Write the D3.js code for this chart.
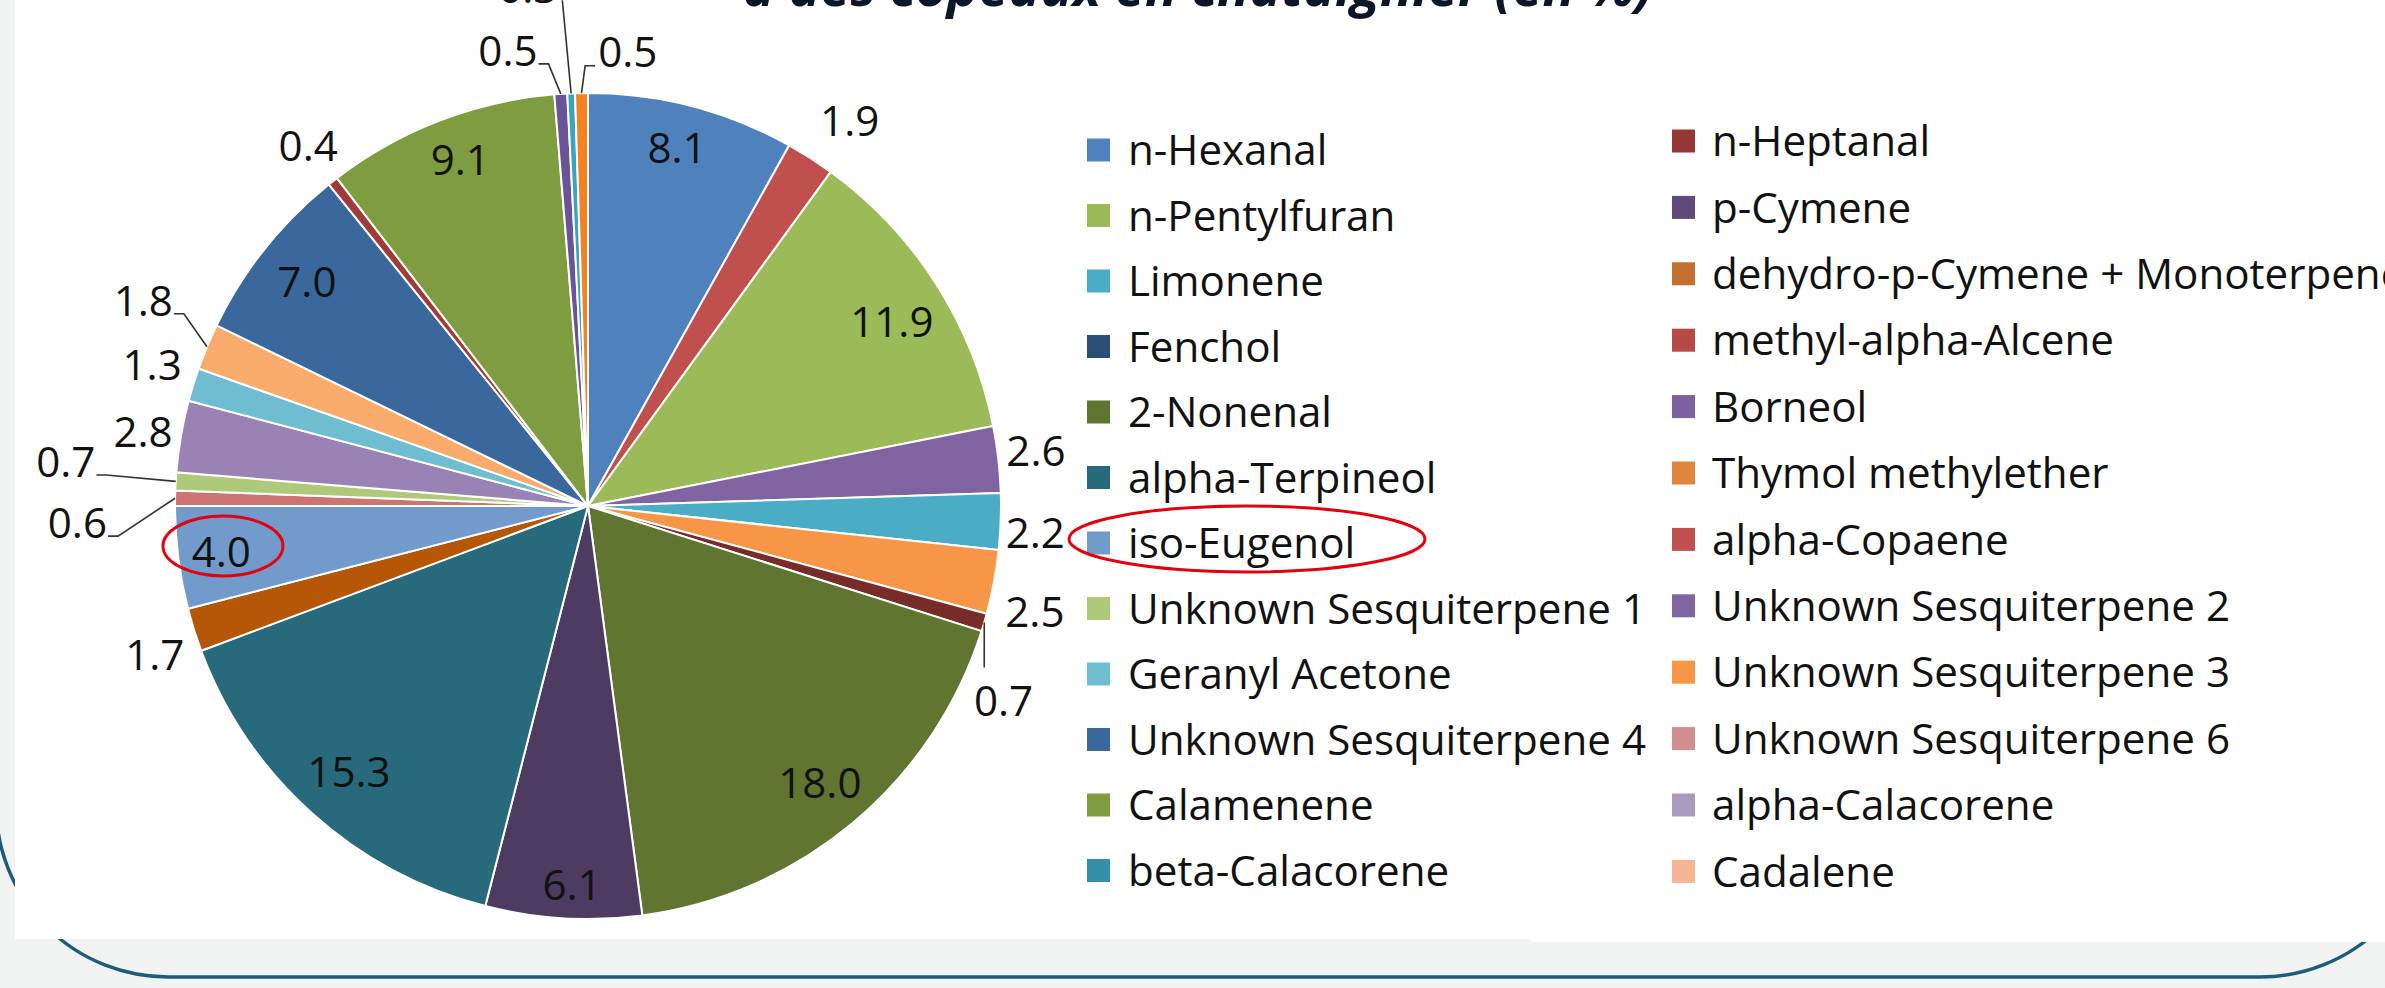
<!DOCTYPE html>
<html><head><meta charset="utf-8">
<script src="https://cdn.jsdelivr.net/npm/d3@7"></script>
<style>html,body{margin:0;padding:0;background:#f1f3f2;overflow:hidden}</style>
</head><body><svg id="c" width="2385" height="988"></svg>
<script>
// ---------- data ----------
const categories = ["n-Hexanal","n-Heptanal","n-Pentylfuran","p-Cymene","Limonene",
  "dehydro-p-Cymene + Monoterpene","Fenchol","methyl-alpha-Alcene","2-Nonenal","Borneol",
  "alpha-Terpineol","Thymol methylether","iso-Eugenol","alpha-Copaene","Unknown Sesquiterpene 1",
  "Unknown Sesquiterpene 2","Geranyl Acetone","Unknown Sesquiterpene 3","Unknown Sesquiterpene 4",
  "Unknown Sesquiterpene 6","Calamenene","alpha-Calacorene","beta-Calacorene","Cadalene"];
const values = [8.1,1.9,11.9,2.6,2.2,2.5,0,0.7,18.0,6.1,15.3,1.7,4.0,0.6,0.7,2.8,1.3,1.8,7.0,0.4,9.1,0.5,0.3,0.5];
const sliceColors = ["#4f81bd","#c0504d","#9bbb59","#8064a2","#4bacc6","#f79646","#2c4d75","#772c2a",
  "#5f7530","#4d3b62","#276a7c","#b65708","#729aca","#cd7371","#afc97a","#9983b5","#6fbdd1","#f9ab6b",
  "#3a679c","#9f3b38","#7e9c40","#6a5396","#3aa3c0","#f58220"];
const legendColors = ["#4f81bd","#953735","#9bbb59","#604a7b","#4bacc6","#c0702f","#2c4d75","#b54a47",
  "#5f7530","#7d60a0","#276a7c","#e0853c","#729aca","#c0504d","#afc97a","#8064a2","#6fbdd1","#f79646",
  "#3a679c","#d08e8e","#7e9c40","#a99bbd","#358fa8","#f8b593"];
const titleText = "à des copeaux en chataignier (en %)";

// ---------- layout ----------
const W = 2385, H = 988;
const cx = 588, cy = 506, R = 413;
const insideR = 0.885;
// per-slice label placement: r = radius factor, da = degrees from mid-angle, leader type
const labelLayout = {
  0:{r:0.893,da:-0.6}, 1:{r:1.128,da:1.6}, 2:{r:0.86,da:1.4}, 3:{r:1.093,da:-0.6},
  4:{r:1.085,da:1.3}, 5:{r:1.112,da:2.7}, 7:{r:1.111,da:8.7,leader:"down"},
  8:{r:0.874,da:0}, 9:{r:0.918,da:-1.0}, 10:{r:0.866,da:0}, 11:{r:1.109,da:-1.5},
  12:{r:0.895,da:0}, 13:{r:1.237,da:-3.0,leader:"left"}, 14:{r:1.269,da:1.4,leader:"left"},
  15:{r:1.092,da:-0.3}, 16:{r:1.109,da:0.8}, 17:{r:1.186,da:2.1,leader:"left"},
  18:{r:0.87,da:0}, 19:{r:1.104,da:0.3}, 20:{r:0.893,da:0.8},
  21:{r:1.119,da:-6.2,leader:"left"}, 22:{r:1.262,da:-4.3,leader:"up"}, 23:{r:1.104,da:5.9,leader:"right"}
};
const FONT = "'Open Sans', 'Noto Sans', sans-serif";

const svg = d3.select("#c");
svg.append("rect").attr("width",W).attr("height",H).attr("fill","#f1f3f2");

// frame (rounded rectangle, mostly hidden behind white panels)
svg.append("rect").attr("x",-4).attr("y",-400).attr("width",2436).attr("height",1377)
  .attr("rx",172).attr("ry",172).attr("fill","none").attr("stroke","#1d5c79").attr("stroke-width",3.5);

svg.append("rect").attr("x",15).attr("y",0).attr("width",1520).attr("height",939).attr("fill","#fff");
svg.append("rect").attr("x",1530).attr("y",0).attr("width",W-1530).attr("height",942).attr("fill","#fff");

// measuring helper
function measure(txt, size, weight, style){
  const t = svg.append("text").attr("font-family",FONT).attr("font-size",size)
    .attr("font-weight",weight||"normal").attr("font-style",style||"normal").text(txt);
  const w = t.node().getComputedTextLength(); t.remove(); return w;
}
const fs = 42 * 518 / measure("Unknown Sesquiterpene 1", 42);

// ---------- pie ----------
const data = categories.map((c,i)=>({name:c, value:values[i], i}));
const pie = d3.pie().sort(null).value(d=>d.value).startAngle(0).endAngle(2*Math.PI);
const arcs = pie(data);
const arc = d3.arc().innerRadius(0).outerRadius(R);
const g = svg.append("g").attr("transform",`translate(${cx},${cy})`);
g.selectAll("path.s").data(arcs.filter(a=>a.data.value>0)).join("path")
  .attr("class","s").attr("d",arc).attr("fill",d=>sliceColors[d.data.i])
  .attr("stroke","#fff").attr("stroke-width",2).attr("stroke-linejoin","round");

const fmt = d3.format(".1f");
const polar = (a, r) => [r*Math.sin(a), -r*Math.cos(a)];
const lg = svg.append("g").attr("transform",`translate(${cx},${cy})`);
arcs.filter(a=>a.data.value>0).forEach(a=>{
  const lay = labelLayout[a.data.i] || {r:insideR, da:0};
  const mid = (a.startAngle + a.endAngle)/2;
  const ang = mid + lay.da*Math.PI/180;
  const [lx, ly] = polar(ang, lay.r*R);
  const txt = fmt(a.data.value);
  const t = lg.append("text").attr("x",lx).attr("y",ly).attr("text-anchor","middle")
    .attr("dy","0.36em").attr("font-family",FONT).attr("font-size",fs).attr("fill","#111")
    .text(txt);
  if (lay.leader){
    const w = t.node().getComputedTextLength();
    const p0 = polar(mid, R);
    let pts;
    if (lay.leader==="left"){
      const e=[lx+w/2+1, ly+13]; pts=[p0,[e[0]+10,e[1]],e];
    } else if (lay.leader==="right"){
      const e=[lx-w/2-3, ly+14]; pts=[p0,[e[0]-10,e[1]],e];
    } else if (lay.leader==="down"){
      pts=[p0,[p0[0], ly-33]];
    } else {
      pts=[p0,[lx+w/2+5, ly+12]];
    }
    lg.append("path").attr("d",d3.line()(pts)).attr("fill","none")
      .attr("stroke","#333").attr("stroke-width",1.6);
  }
});

// ---------- legend ----------
const legCols = [{sx:1087, tx:1128, y0:150, step:65.5},{sx:1672, tx:1712, y0:141, step:66.4}];
const leg = svg.append("g");
data.forEach((d,i)=>{
  const c = legCols[i%2], row = Math.floor(i/2);
  const y = c.y0 + row*c.step;
  leg.append("rect").attr("x",c.sx).attr("y",y-11.5).attr("width",23).attr("height",23)
    .attr("fill",legendColors[i]);
  leg.append("text").attr("x",c.tx).attr("y",y).attr("dy","0.36em")
    .attr("font-family",FONT).attr("font-size",fs).attr("fill","#111").text(d.name);
});

// ---------- red annotation ellipses ----------
svg.append("ellipse").attr("cx",223).attr("cy",546).attr("rx",60).attr("ry",30)
  .attr("fill","none").attr("stroke","#e00010").attr("stroke-width",3);
svg.append("ellipse").attr("cx",1247).attr("cy",539).attr("rx",178).attr("ry",33)
  .attr("fill","none").attr("stroke","#e00010").attr("stroke-width",3);

// ---------- title (top cut off) ----------
const tfs = 48 * 910 / measure(titleText, 48, "bold", "italic");
svg.append("text").attr("x",743).attr("y",6).attr("font-family",FONT).attr("font-size",tfs)
  .attr("font-weight","bold").attr("font-style","italic").attr("fill","#0b1626").text(titleText);
</script></body></html>
